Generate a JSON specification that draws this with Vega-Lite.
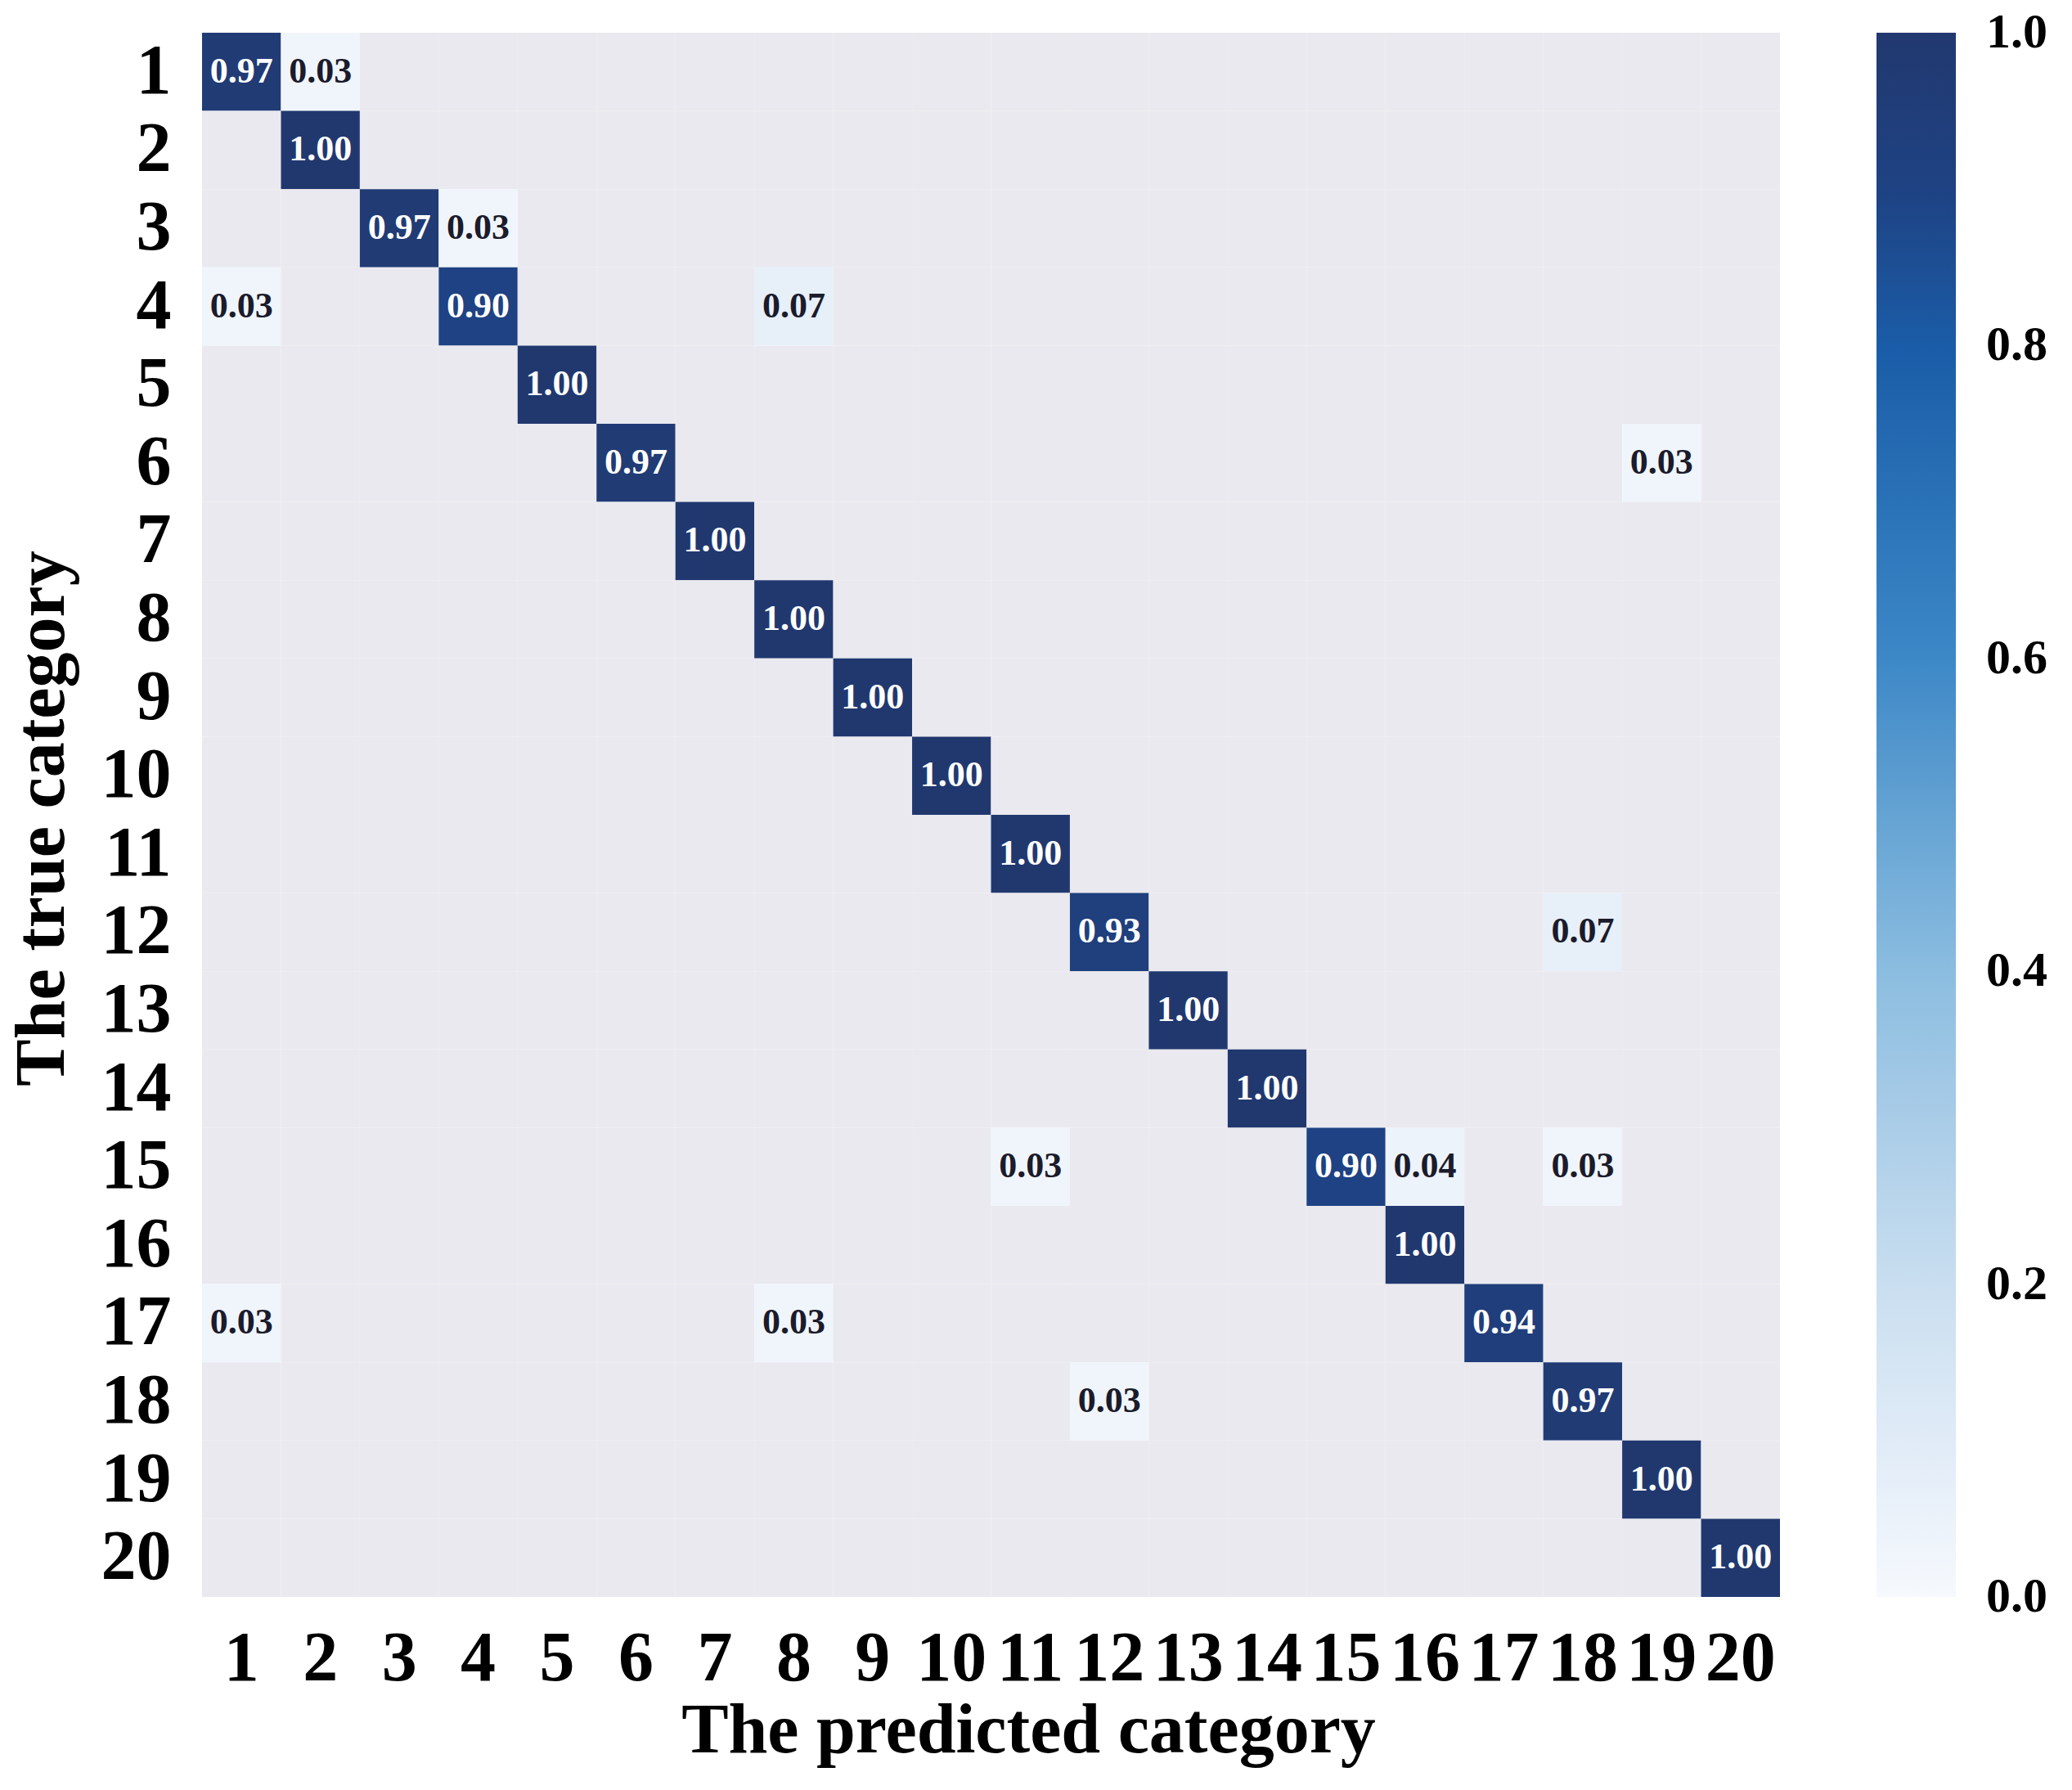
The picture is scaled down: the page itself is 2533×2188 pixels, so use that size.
{
"$schema": "https://vega.github.io/schema/vega-lite/v6.json",
"autosize": {"type": "none"},
"width": 1929,
"height": 1912,
"padding": {"left": 247, "top": 40, "right": 357, "bottom": 236},
"background": "white",
"config": {"view": {"stroke": null}, "font": "Liberation Serif"},
"data": {"values": [
{"t":1,"p":1,"v":0.97},{"t":1,"p":2,"v":0.03},{"t":1,"p":3,"v":0},{"t":1,"p":4,"v":0},{"t":1,"p":5,"v":0},{"t":1,"p":6,"v":0},{"t":1,"p":7,"v":0},{"t":1,"p":8,"v":0},{"t":1,"p":9,"v":0},{"t":1,"p":10,"v":0},{"t":1,"p":11,"v":0},{"t":1,"p":12,"v":0},{"t":1,"p":13,"v":0},{"t":1,"p":14,"v":0},{"t":1,"p":15,"v":0},{"t":1,"p":16,"v":0},{"t":1,"p":17,"v":0},{"t":1,"p":18,"v":0},{"t":1,"p":19,"v":0},{"t":1,"p":20,"v":0},
{"t":2,"p":1,"v":0},{"t":2,"p":2,"v":1.0},{"t":2,"p":3,"v":0},{"t":2,"p":4,"v":0},{"t":2,"p":5,"v":0},{"t":2,"p":6,"v":0},{"t":2,"p":7,"v":0},{"t":2,"p":8,"v":0},{"t":2,"p":9,"v":0},{"t":2,"p":10,"v":0},{"t":2,"p":11,"v":0},{"t":2,"p":12,"v":0},{"t":2,"p":13,"v":0},{"t":2,"p":14,"v":0},{"t":2,"p":15,"v":0},{"t":2,"p":16,"v":0},{"t":2,"p":17,"v":0},{"t":2,"p":18,"v":0},{"t":2,"p":19,"v":0},{"t":2,"p":20,"v":0},
{"t":3,"p":1,"v":0},{"t":3,"p":2,"v":0},{"t":3,"p":3,"v":0.97},{"t":3,"p":4,"v":0.03},{"t":3,"p":5,"v":0},{"t":3,"p":6,"v":0},{"t":3,"p":7,"v":0},{"t":3,"p":8,"v":0},{"t":3,"p":9,"v":0},{"t":3,"p":10,"v":0},{"t":3,"p":11,"v":0},{"t":3,"p":12,"v":0},{"t":3,"p":13,"v":0},{"t":3,"p":14,"v":0},{"t":3,"p":15,"v":0},{"t":3,"p":16,"v":0},{"t":3,"p":17,"v":0},{"t":3,"p":18,"v":0},{"t":3,"p":19,"v":0},{"t":3,"p":20,"v":0},
{"t":4,"p":1,"v":0.03},{"t":4,"p":2,"v":0},{"t":4,"p":3,"v":0},{"t":4,"p":4,"v":0.90},{"t":4,"p":5,"v":0},{"t":4,"p":6,"v":0},{"t":4,"p":7,"v":0},{"t":4,"p":8,"v":0.07},{"t":4,"p":9,"v":0},{"t":4,"p":10,"v":0},{"t":4,"p":11,"v":0},{"t":4,"p":12,"v":0},{"t":4,"p":13,"v":0},{"t":4,"p":14,"v":0},{"t":4,"p":15,"v":0},{"t":4,"p":16,"v":0},{"t":4,"p":17,"v":0},{"t":4,"p":18,"v":0},{"t":4,"p":19,"v":0},{"t":4,"p":20,"v":0},
{"t":5,"p":1,"v":0},{"t":5,"p":2,"v":0},{"t":5,"p":3,"v":0},{"t":5,"p":4,"v":0},{"t":5,"p":5,"v":1.0},{"t":5,"p":6,"v":0},{"t":5,"p":7,"v":0},{"t":5,"p":8,"v":0},{"t":5,"p":9,"v":0},{"t":5,"p":10,"v":0},{"t":5,"p":11,"v":0},{"t":5,"p":12,"v":0},{"t":5,"p":13,"v":0},{"t":5,"p":14,"v":0},{"t":5,"p":15,"v":0},{"t":5,"p":16,"v":0},{"t":5,"p":17,"v":0},{"t":5,"p":18,"v":0},{"t":5,"p":19,"v":0},{"t":5,"p":20,"v":0},
{"t":6,"p":1,"v":0},{"t":6,"p":2,"v":0},{"t":6,"p":3,"v":0},{"t":6,"p":4,"v":0},{"t":6,"p":5,"v":0},{"t":6,"p":6,"v":0.97},{"t":6,"p":7,"v":0},{"t":6,"p":8,"v":0},{"t":6,"p":9,"v":0},{"t":6,"p":10,"v":0},{"t":6,"p":11,"v":0},{"t":6,"p":12,"v":0},{"t":6,"p":13,"v":0},{"t":6,"p":14,"v":0},{"t":6,"p":15,"v":0},{"t":6,"p":16,"v":0},{"t":6,"p":17,"v":0},{"t":6,"p":18,"v":0},{"t":6,"p":19,"v":0.03},{"t":6,"p":20,"v":0},
{"t":7,"p":1,"v":0},{"t":7,"p":2,"v":0},{"t":7,"p":3,"v":0},{"t":7,"p":4,"v":0},{"t":7,"p":5,"v":0},{"t":7,"p":6,"v":0},{"t":7,"p":7,"v":1.0},{"t":7,"p":8,"v":0},{"t":7,"p":9,"v":0},{"t":7,"p":10,"v":0},{"t":7,"p":11,"v":0},{"t":7,"p":12,"v":0},{"t":7,"p":13,"v":0},{"t":7,"p":14,"v":0},{"t":7,"p":15,"v":0},{"t":7,"p":16,"v":0},{"t":7,"p":17,"v":0},{"t":7,"p":18,"v":0},{"t":7,"p":19,"v":0},{"t":7,"p":20,"v":0},
{"t":8,"p":1,"v":0},{"t":8,"p":2,"v":0},{"t":8,"p":3,"v":0},{"t":8,"p":4,"v":0},{"t":8,"p":5,"v":0},{"t":8,"p":6,"v":0},{"t":8,"p":7,"v":0},{"t":8,"p":8,"v":1.0},{"t":8,"p":9,"v":0},{"t":8,"p":10,"v":0},{"t":8,"p":11,"v":0},{"t":8,"p":12,"v":0},{"t":8,"p":13,"v":0},{"t":8,"p":14,"v":0},{"t":8,"p":15,"v":0},{"t":8,"p":16,"v":0},{"t":8,"p":17,"v":0},{"t":8,"p":18,"v":0},{"t":8,"p":19,"v":0},{"t":8,"p":20,"v":0},
{"t":9,"p":1,"v":0},{"t":9,"p":2,"v":0},{"t":9,"p":3,"v":0},{"t":9,"p":4,"v":0},{"t":9,"p":5,"v":0},{"t":9,"p":6,"v":0},{"t":9,"p":7,"v":0},{"t":9,"p":8,"v":0},{"t":9,"p":9,"v":1.0},{"t":9,"p":10,"v":0},{"t":9,"p":11,"v":0},{"t":9,"p":12,"v":0},{"t":9,"p":13,"v":0},{"t":9,"p":14,"v":0},{"t":9,"p":15,"v":0},{"t":9,"p":16,"v":0},{"t":9,"p":17,"v":0},{"t":9,"p":18,"v":0},{"t":9,"p":19,"v":0},{"t":9,"p":20,"v":0},
{"t":10,"p":1,"v":0},{"t":10,"p":2,"v":0},{"t":10,"p":3,"v":0},{"t":10,"p":4,"v":0},{"t":10,"p":5,"v":0},{"t":10,"p":6,"v":0},{"t":10,"p":7,"v":0},{"t":10,"p":8,"v":0},{"t":10,"p":9,"v":0},{"t":10,"p":10,"v":1.0},{"t":10,"p":11,"v":0},{"t":10,"p":12,"v":0},{"t":10,"p":13,"v":0},{"t":10,"p":14,"v":0},{"t":10,"p":15,"v":0},{"t":10,"p":16,"v":0},{"t":10,"p":17,"v":0},{"t":10,"p":18,"v":0},{"t":10,"p":19,"v":0},{"t":10,"p":20,"v":0},
{"t":11,"p":1,"v":0},{"t":11,"p":2,"v":0},{"t":11,"p":3,"v":0},{"t":11,"p":4,"v":0},{"t":11,"p":5,"v":0},{"t":11,"p":6,"v":0},{"t":11,"p":7,"v":0},{"t":11,"p":8,"v":0},{"t":11,"p":9,"v":0},{"t":11,"p":10,"v":0},{"t":11,"p":11,"v":1.0},{"t":11,"p":12,"v":0},{"t":11,"p":13,"v":0},{"t":11,"p":14,"v":0},{"t":11,"p":15,"v":0},{"t":11,"p":16,"v":0},{"t":11,"p":17,"v":0},{"t":11,"p":18,"v":0},{"t":11,"p":19,"v":0},{"t":11,"p":20,"v":0},
{"t":12,"p":1,"v":0},{"t":12,"p":2,"v":0},{"t":12,"p":3,"v":0},{"t":12,"p":4,"v":0},{"t":12,"p":5,"v":0},{"t":12,"p":6,"v":0},{"t":12,"p":7,"v":0},{"t":12,"p":8,"v":0},{"t":12,"p":9,"v":0},{"t":12,"p":10,"v":0},{"t":12,"p":11,"v":0},{"t":12,"p":12,"v":0.93},{"t":12,"p":13,"v":0},{"t":12,"p":14,"v":0},{"t":12,"p":15,"v":0},{"t":12,"p":16,"v":0},{"t":12,"p":17,"v":0},{"t":12,"p":18,"v":0.07},{"t":12,"p":19,"v":0},{"t":12,"p":20,"v":0},
{"t":13,"p":1,"v":0},{"t":13,"p":2,"v":0},{"t":13,"p":3,"v":0},{"t":13,"p":4,"v":0},{"t":13,"p":5,"v":0},{"t":13,"p":6,"v":0},{"t":13,"p":7,"v":0},{"t":13,"p":8,"v":0},{"t":13,"p":9,"v":0},{"t":13,"p":10,"v":0},{"t":13,"p":11,"v":0},{"t":13,"p":12,"v":0},{"t":13,"p":13,"v":1.0},{"t":13,"p":14,"v":0},{"t":13,"p":15,"v":0},{"t":13,"p":16,"v":0},{"t":13,"p":17,"v":0},{"t":13,"p":18,"v":0},{"t":13,"p":19,"v":0},{"t":13,"p":20,"v":0},
{"t":14,"p":1,"v":0},{"t":14,"p":2,"v":0},{"t":14,"p":3,"v":0},{"t":14,"p":4,"v":0},{"t":14,"p":5,"v":0},{"t":14,"p":6,"v":0},{"t":14,"p":7,"v":0},{"t":14,"p":8,"v":0},{"t":14,"p":9,"v":0},{"t":14,"p":10,"v":0},{"t":14,"p":11,"v":0},{"t":14,"p":12,"v":0},{"t":14,"p":13,"v":0},{"t":14,"p":14,"v":1.0},{"t":14,"p":15,"v":0},{"t":14,"p":16,"v":0},{"t":14,"p":17,"v":0},{"t":14,"p":18,"v":0},{"t":14,"p":19,"v":0},{"t":14,"p":20,"v":0},
{"t":15,"p":1,"v":0},{"t":15,"p":2,"v":0},{"t":15,"p":3,"v":0},{"t":15,"p":4,"v":0},{"t":15,"p":5,"v":0},{"t":15,"p":6,"v":0},{"t":15,"p":7,"v":0},{"t":15,"p":8,"v":0},{"t":15,"p":9,"v":0},{"t":15,"p":10,"v":0},{"t":15,"p":11,"v":0.03},{"t":15,"p":12,"v":0},{"t":15,"p":13,"v":0},{"t":15,"p":14,"v":0},{"t":15,"p":15,"v":0.90},{"t":15,"p":16,"v":0.04},{"t":15,"p":17,"v":0},{"t":15,"p":18,"v":0.03},{"t":15,"p":19,"v":0},{"t":15,"p":20,"v":0},
{"t":16,"p":1,"v":0},{"t":16,"p":2,"v":0},{"t":16,"p":3,"v":0},{"t":16,"p":4,"v":0},{"t":16,"p":5,"v":0},{"t":16,"p":6,"v":0},{"t":16,"p":7,"v":0},{"t":16,"p":8,"v":0},{"t":16,"p":9,"v":0},{"t":16,"p":10,"v":0},{"t":16,"p":11,"v":0},{"t":16,"p":12,"v":0},{"t":16,"p":13,"v":0},{"t":16,"p":14,"v":0},{"t":16,"p":15,"v":0},{"t":16,"p":16,"v":1.0},{"t":16,"p":17,"v":0},{"t":16,"p":18,"v":0},{"t":16,"p":19,"v":0},{"t":16,"p":20,"v":0},
{"t":17,"p":1,"v":0.03},{"t":17,"p":2,"v":0},{"t":17,"p":3,"v":0},{"t":17,"p":4,"v":0},{"t":17,"p":5,"v":0},{"t":17,"p":6,"v":0},{"t":17,"p":7,"v":0},{"t":17,"p":8,"v":0.03},{"t":17,"p":9,"v":0},{"t":17,"p":10,"v":0},{"t":17,"p":11,"v":0},{"t":17,"p":12,"v":0},{"t":17,"p":13,"v":0},{"t":17,"p":14,"v":0},{"t":17,"p":15,"v":0},{"t":17,"p":16,"v":0},{"t":17,"p":17,"v":0.94},{"t":17,"p":18,"v":0},{"t":17,"p":19,"v":0},{"t":17,"p":20,"v":0},
{"t":18,"p":1,"v":0},{"t":18,"p":2,"v":0},{"t":18,"p":3,"v":0},{"t":18,"p":4,"v":0},{"t":18,"p":5,"v":0},{"t":18,"p":6,"v":0},{"t":18,"p":7,"v":0},{"t":18,"p":8,"v":0},{"t":18,"p":9,"v":0},{"t":18,"p":10,"v":0},{"t":18,"p":11,"v":0},{"t":18,"p":12,"v":0.03},{"t":18,"p":13,"v":0},{"t":18,"p":14,"v":0},{"t":18,"p":15,"v":0},{"t":18,"p":16,"v":0},{"t":18,"p":17,"v":0},{"t":18,"p":18,"v":0.97},{"t":18,"p":19,"v":0},{"t":18,"p":20,"v":0},
{"t":19,"p":1,"v":0},{"t":19,"p":2,"v":0},{"t":19,"p":3,"v":0},{"t":19,"p":4,"v":0},{"t":19,"p":5,"v":0},{"t":19,"p":6,"v":0},{"t":19,"p":7,"v":0},{"t":19,"p":8,"v":0},{"t":19,"p":9,"v":0},{"t":19,"p":10,"v":0},{"t":19,"p":11,"v":0},{"t":19,"p":12,"v":0},{"t":19,"p":13,"v":0},{"t":19,"p":14,"v":0},{"t":19,"p":15,"v":0},{"t":19,"p":16,"v":0},{"t":19,"p":17,"v":0},{"t":19,"p":18,"v":0},{"t":19,"p":19,"v":1.0},{"t":19,"p":20,"v":0},
{"t":20,"p":1,"v":0},{"t":20,"p":2,"v":0},{"t":20,"p":3,"v":0},{"t":20,"p":4,"v":0},{"t":20,"p":5,"v":0},{"t":20,"p":6,"v":0},{"t":20,"p":7,"v":0},{"t":20,"p":8,"v":0},{"t":20,"p":9,"v":0},{"t":20,"p":10,"v":0},{"t":20,"p":11,"v":0},{"t":20,"p":12,"v":0},{"t":20,"p":13,"v":0},{"t":20,"p":14,"v":0},{"t":20,"p":15,"v":0},{"t":20,"p":16,"v":0},{"t":20,"p":17,"v":0},{"t":20,"p":18,"v":0},{"t":20,"p":19,"v":0},{"t":20,"p":20,"v":1.0}
]},
"encoding": {
  "x": {"field": "p", "type": "ordinal", "scale": {"paddingInner": 0, "paddingOuter": 0},
    "axis": {"title": "The predicted category", "titleFont": "Liberation Serif", "titleFontSize": 86, "titleFontWeight": "bold", "titleColor": "black", "titleX": 1010, "titleY": 189, "titleBaseline": "alphabetic",
      "labelAngle": 0, "labelFont": "Liberation Serif", "labelFontSize": 86, "labelFontWeight": "bold", "labelColor": "black", "labelPadding": 33, "ticks": false, "tickSize": 0, "domain": false, "grid": false}},
  "y": {"field": "t", "type": "ordinal", "scale": {"paddingInner": 0, "paddingOuter": 0},
    "axis": {"title": "The true category", "titleFont": "Liberation Serif", "titleFontSize": 86, "titleFontWeight": "bold", "titleColor": "black", "titleX": -170, "titleY": 960, "titleAngle": -90, "titleBaseline": "alphabetic",
      "labelFont": "Liberation Serif", "labelFontSize": 86, "labelFontWeight": "bold", "labelColor": "black", "labelPadding": 38, "ticks": false, "tickSize": 0, "domain": false, "grid": false}}
},
"layer": [
  {"mark": {"type": "rect"},
   "encoding": {"color": {"field": "v", "type": "quantitative",
      "condition": {"test": "datum.v === 0", "value": "#e9e9ef"},
      "scale": {"domain": [0, 0.2, 0.4, 0.6, 0.8, 0.9, 1], "range": ["#f6f9fd", "#c9def0", "#8bbde0", "#3c88c7", "#1a5ca7", "#1e4283", "#21386f"]},
      "legend": {"title": null, "orient": "right", "offset": 118, "direction": "vertical", "gradientLength": 1912, "gradientThickness": 97, "gradientStrokeWidth": 0, "padding": 0,
        "values": [0, 0.2, 0.4, 0.6, 0.8, 1], "format": ".1f", "labelFont": "Liberation Serif", "labelFontSize": 60, "labelFontWeight": "bold", "labelColor": "black", "labelOffset": 37, "labelBaseline": "middle",
        "encode": {"labels": {"update": {"baseline": {"value": "middle"}}}}}}}},
  {"transform": [{"filter": "datum.v > 0"}],
   "mark": {"type": "text", "font": "Liberation Serif", "fontWeight": "bold", "fontSize": 44},
   "encoding": {"text": {"field": "v", "type": "quantitative", "format": ".2f"},
     "color": {"condition": {"test": "datum.v > 0.5", "value": "white"}, "value": "#1b1b2b"}}}
]
}
